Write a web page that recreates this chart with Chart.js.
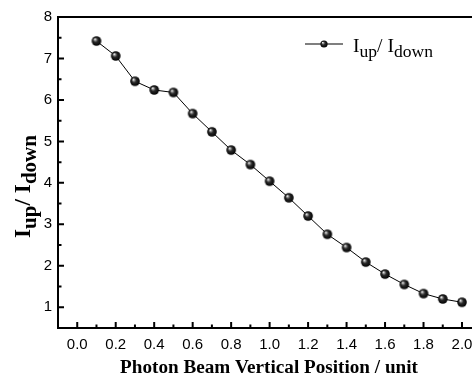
<!DOCTYPE html>
<html>
<head>
<meta charset="utf-8">
<script src="https://cdn.jsdelivr.net/npm/chart.js@4/dist/chart.umd.min.js"></script>
<style>
html,body{margin:0;padding:0;background:#fff;}
#wrap{width:472px;height:378px;position:relative;}
</style>
</head>
<body>
<div id="wrap"><canvas id="c" width="472" height="378"></canvas></div>
<script>
// ---- data ----
const positions = [0.1,0.2,0.3,0.4,0.5,0.6,0.7,0.8,0.9,1.0,1.1,1.2,1.3,1.4,1.5,1.6,1.7,1.8,1.9,2.0];
const ratioValues = [7.42,7.06,6.45,6.24,6.18,5.67,5.23,4.79,4.44,4.04,3.64,3.20,2.76,2.44,2.09,1.80,1.55,1.33,1.20,1.12];
const xTickValues = [0.0,0.2,0.4,0.6,0.8,1.0,1.2,1.4,1.6,1.8,2.0];
const xMinorTicks = [0.1,0.3,0.5,0.7,0.9,1.1,1.3,1.5,1.7,1.9];
const yTickValues = [1,2,3,4,5,6,7,8];
const yMinorTicks = [1.5,2.5,3.5,4.5,5.5,6.5,7.5];
const xTitle = 'Photon Beam Vertical Position / unit';
const ratioLabel = [{t:'I'},{t:'up',sub:true},{t:'/ I'},{t:'down',sub:true}];

// ---- sphere marker ----
function sphere(r){
  const s = Math.ceil(r*2+2);
  const cv = document.createElement('canvas');
  cv.width = s; cv.height = s;
  const g = cv.getContext('2d');
  const c = s/2;
  const grd = g.createRadialGradient(c - r*0.35, c - r*0.4, r*0.05, c, c, r);
  grd.addColorStop(0, '#ffffff');
  grd.addColorStop(0.18, '#9a9a9a');
  grd.addColorStop(0.45, '#2a2a2a');
  grd.addColorStop(1, '#000000');
  g.fillStyle = grd;
  g.beginPath(); g.arc(c, c, r, 0, Math.PI*2); g.fill();
  return cv;
}
const bigSphere = sphere(4.8);
const smallSphere = sphere(3.6);

function drawParts(ctx, parts, x, y, size, weight, subSize, subDrop){
  let cx = x;
  parts.forEach(p=>{
    ctx.font = weight + ' ' + (p.sub ? subSize : size) + 'px "Liberation Serif"';
    ctx.fillText(p.t, cx, y + (p.sub ? subDrop : 0));
    cx += ctx.measureText(p.t).width;
  });
  return cx - x;
}
function measureParts(ctx, parts, size, weight, subSize){
  let w = 0;
  parts.forEach(p=>{
    ctx.font = weight + ' ' + (p.sub ? subSize : size) + 'px "Liberation Serif"';
    w += ctx.measureText(p.t).width;
  });
  return w;
}

const decor = {
  id:'decor',
  afterDraw(chart){
    const {ctx, chartArea:{left,right,top,bottom}, scales:{x,y}} = chart;
    ctx.save();
    ctx.strokeStyle = '#000';
    ctx.fillStyle = '#000';
    // top frame line
    ctx.lineWidth = 2;
    ctx.beginPath(); ctx.moveTo(left-1, top); ctx.lineTo(chart.width, top); ctx.stroke();
    // inward ticks
    ctx.lineWidth = 2;
    ctx.beginPath();
    xTickValues.forEach(v=>{const p=x.getPixelForValue(v); ctx.moveTo(p,bottom); ctx.lineTo(p,bottom-6);});
    xMinorTicks.forEach(v=>{const p=x.getPixelForValue(v); ctx.moveTo(p,bottom); ctx.lineTo(p,bottom-3.5);});
    yTickValues.forEach(v=>{const p=y.getPixelForValue(v); ctx.moveTo(left,p); ctx.lineTo(left+6,p);});
    yMinorTicks.forEach(v=>{const p=y.getPixelForValue(v); ctx.moveTo(left,p); ctx.lineTo(left+3.5,p);});
    ctx.stroke();
    // x title
    ctx.textAlign = 'left';
    ctx.textBaseline = 'alphabetic';
    ctx.font = 'bold 17px "Liberation Serif"';
    const tw = ctx.measureText(xTitle).width;
    const fs = 17 * 298 / tw;
    ctx.font = 'bold ' + fs.toFixed(2) + 'px "Liberation Serif"';
    ctx.textAlign = 'center';
    ctx.fillText(xTitle, 269, 373);
    // y title (rotated)
    ctx.textAlign = 'left';
    let k = 103 / measureParts(ctx, ratioLabel, 20, 'bold', 18);
    const ym = 20*k, ys = 18*k;
    const w = measureParts(ctx, ratioLabel, ym, 'bold', ys);
    ctx.save();
    ctx.translate(30, 186.5);
    ctx.rotate(-Math.PI/2);
    drawParts(ctx, ratioLabel, -w/2, 0, ym, 'bold', ys, 6);
    ctx.restore();
    // legend
    ctx.lineWidth = 1.2;
    ctx.beginPath(); ctx.moveTo(305, 44); ctx.lineTo(343, 44); ctx.stroke();
    ctx.drawImage(smallSphere, 324 - smallSphere.width/2, 44 - smallSphere.height/2);
    k = 80 / measureParts(ctx, ratioLabel, 19, 'normal', 17);
    drawParts(ctx, ratioLabel, 353, 51.7, 19*k, 'normal', 17*k, 5);
    ctx.restore();
  }
};

new Chart(document.getElementById('c'), {
  type: 'scatter',
  data: {
    datasets: [{
      label: 'Iup/Idown',
      data: positions.map((p,i)=>({x:p, y:ratioValues[i]})),
      showLine: true,
      borderColor: '#000',
      borderWidth: 1,
      pointStyle: bigSphere,
      pointRadius: 4.8,
      pointHoverRadius: 4.8
    }]
  },
  options: {
    responsive: false,
    animation: false,
    devicePixelRatio: 1,
    layout: { autoPadding: false, padding: { top: 17, right: 0, left: 0, bottom: 0 } },
    plugins: { legend: { display: false }, tooltip: { enabled: false } },
    scales: {
      x: {
        type: 'linear', min: -0.1, max: 2.052,
        grid: { display: false, drawTicks: false, tickLength: 0 },
        border: { display: true, color: '#000', width: 2 },
        afterBuildTicks: s => { s.ticks = xTickValues.map(v=>({value:v})); },
        afterFit: s => { s.height = 50; s.paddingLeft = 0; s.paddingRight = 0; },
        ticks: {
          color: '#000', padding: 8,
          font: { family: '"Liberation Sans"', size: 15 },
          callback: v => Number(v).toFixed(1),
          maxRotation: 0, autoSkip: false
        }
      },
      y: {
        type: 'linear', min: 0.5, max: 8,
        grid: { display: false, drawTicks: false, tickLength: 0 },
        border: { display: true, color: '#000', width: 2 },
        afterBuildTicks: s => { s.ticks = yTickValues.map(v=>({value:v})); },
        afterFit: s => { s.width = 58; s.paddingTop = 0; s.paddingBottom = 0; },
        ticks: {
          color: '#000', padding: 6,
          font: { family: '"Liberation Sans"', size: 15 },
          callback: v => String(v),
          autoSkip: false
        }
      }
    }
  },
  plugins: [decor]
});
</script>
</body>
</html>
